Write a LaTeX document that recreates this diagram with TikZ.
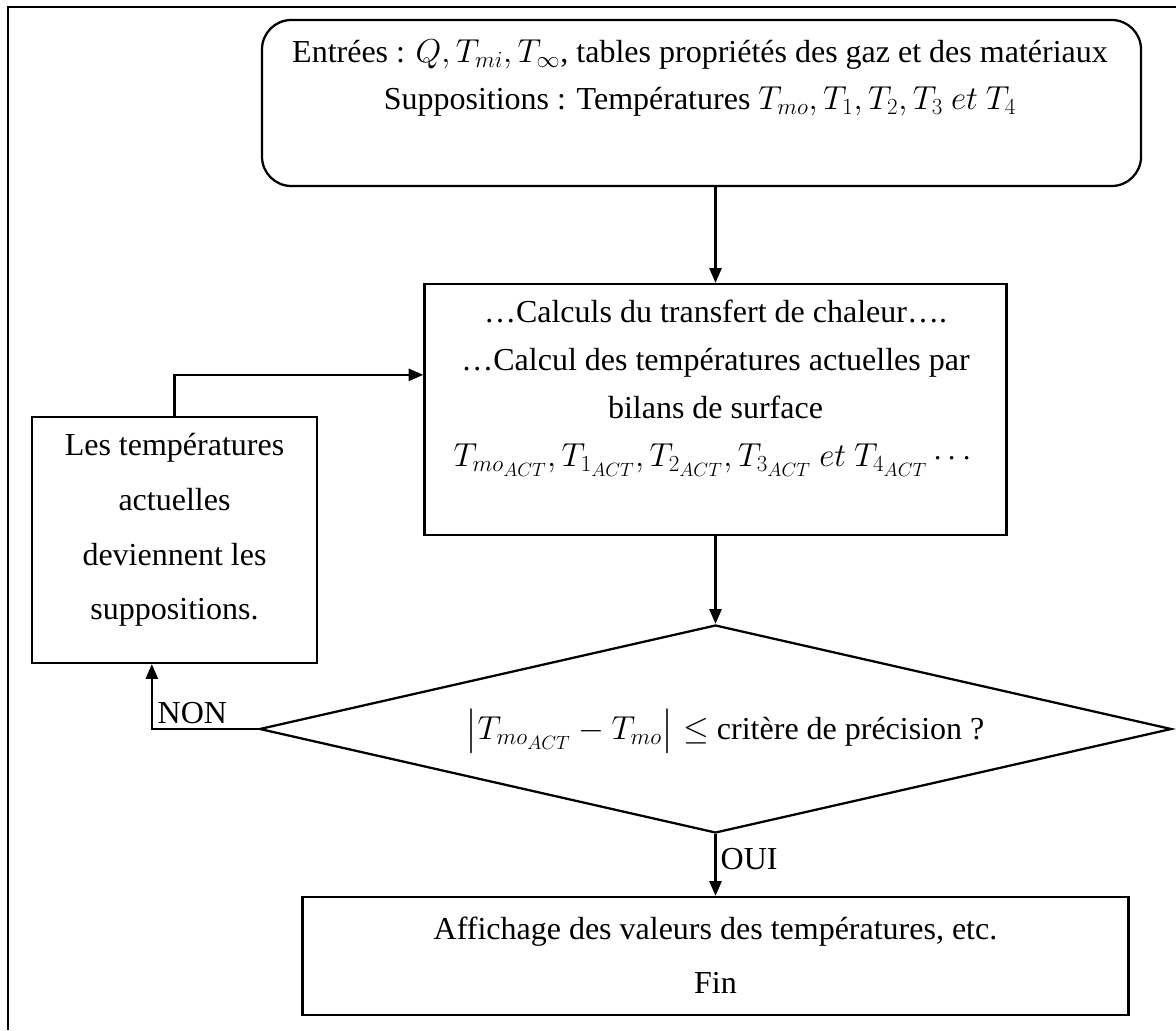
\documentclass[tikz,border=0pt]{standalone}
\usepackage{amsmath,amssymb}
\usepackage{fontspec}
\setmainfont{Liberation Serif}
\DeclareMathSizes{24}{27}{19}{15}
\usetikzlibrary{shapes.geometric,arrows.meta}

\begin{document}
\begin{tikzpicture}[x=0.75pt,y=-0.75pt,line width=1.7pt,
  font=\fontsize{24}{35}\selectfont,
  fleche/.style={-{Triangle[length=11pt,width=9pt]}},
  texte/.style={align=center,inner sep=0pt}]
\useasboundingbox (0,0) rectangle (1176,1030);
\draw[line width=1.8pt] (1176,7) -- (8,7) -- (8,1030);
% boites
\node[draw,rounded corners=22pt,minimum width=659.25pt,minimum height=124.5pt] (entree) at (701.5,103) {};
\node[draw,minimum width=436.5pt,minimum height=188.25pt] (calc) at (715.5,409.5) {};
\node[draw,minimum width=213.75pt,minimum height=184.5pt] (maj) at (174.5,540) {};
\node[draw,diamond,minimum width=684pt,minimum height=156pt,inner sep=0pt] (test) at (715.5,729) {};
\node[draw,minimum width=619.5pt,minimum height=88.5pt] (fin) at (715.5,956) {};
% textes
\node[texte] (entreeTxt) at (700,78) {Entrées : $Q, T_{mi}, T_{\infty}$, tables propriétés des gaz et des matériaux\\
  Suppositions : Températures $T_{mo}, T_1, T_2, T_3\ et\ T_4$};
\node[texte,font=\fontsize{24}{36}\selectfont] (calcTxt) at (715.5,388) {…Calculs du transfert de chaleur….\\
  …Calcul des températures actuelles par\\
  bilans de surface\\
  $T_{mo_{ACT}}, T_{1_{ACT}}, T_{2_{ACT}}, T_{3_{ACT}}\ et\ T_{4_{ACT}}\cdots$};
\node[texte,font=\fontsize{24}{41}\selectfont] (majTxt) at (174.5,530) {Les températures\\ actuelles\\ deviennent les\\ suppositions.};
\node[texte] (testTxt) at (725,731) {$\bigl|T_{mo_{ACT}} - T_{mo}\bigr| \leq$ critère de précision ?};
\node[texte,font=\fontsize{24}{40.5}\selectfont] (finTxt) at (715.5,955) {Affichage des valeurs des températures, etc.\\ Fin};
% liens
\draw[fleche] (calc.north |- entree.south) -- (calc.north);
\draw[fleche] (calc.south) -- (test.north);
\draw[fleche] (test.south) -- node[right,pos=0.4,inner sep=3pt]{OUI} (fin.north);
\draw[fleche] (test.west) -| node[above,pos=0.31,inner sep=3pt]{NON} ([xshift=-17pt]maj.south);
\draw[fleche] (maj.north) |- ([yshift=26pt]calc.west);
\end{tikzpicture}
\end{document}
